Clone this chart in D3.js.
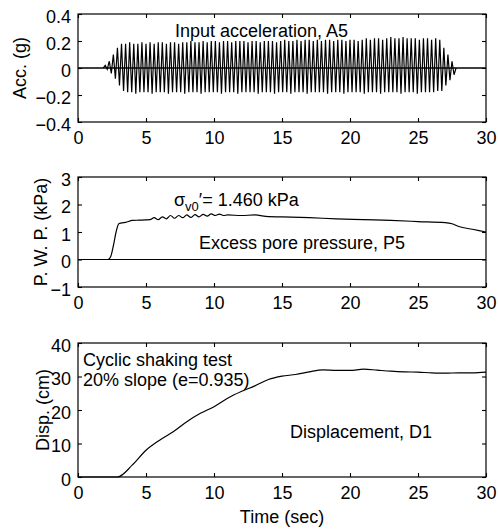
<!DOCTYPE html>
<html lang="en">
<head>
  <meta charset="UTF-8" />
  <title>Cyclic shaking test</title>
  <script src="https://d3js.org/d3.v7.min.js"></script>
  <style>
    body{margin:0;background:#fff}
    svg{display:block}
    text{font-family:"Liberation Sans",Arial,sans-serif;font-size:18px;fill:#000}
    .tick text{font-size:18px}
    .frame{fill:none;stroke:#000;stroke-width:1.2}
    .curve{fill:none;stroke:#000;stroke-width:1.2}
  </style>
</head>
<body>
  <div id="chart"></div>
  <script>
    // input acceleration A5 : one peak pair per cycle, cycles start at accT0 every accPeriod seconds
    const accT0 = 2.0, accPeriod = 0.3;
    const accPos = [
      0.02,0.05,0.10,0.15,0.18,
      0.18,0.19,0.18,0.18,0.19,0.18,0.19,0.18,0.19,0.19,0.18,0.19,0.19,0.18,0.19,
      0.19,0.20,0.19,0.19,0.20,0.19,0.20,0.20,0.19,0.20,0.20,0.19,0.20,0.20,0.20,0.19,0.20,0.20,0.19,0.20,0.20,0.20,0.19,
      0.20,0.21,0.20,0.20,0.21,0.20,0.21,0.21,0.20,0.21,0.20,0.21,0.21,0.20,0.21,0.21,0.20,0.21,0.21,0.20,
      0.21,0.22,0.21,0.22,0.22,0.21,0.22,0.23,0.22,0.22,0.23,0.22,0.22,0.22,0.21,0.22,0.22,0.21,0.22,
      0.21,0.15,0.10,0.05
    ];
    const accNeg = [
      -0.01,-0.04,-0.08,-0.13,-0.17,
      -0.18,-0.18,-0.19,-0.18,-0.18,-0.18,-0.19,-0.18,-0.18,-0.18,-0.19,-0.18,-0.18,-0.18,-0.19,
      -0.18,-0.18,-0.18,-0.19,-0.18,-0.18,-0.18,-0.18,-0.19,-0.18,-0.18,-0.18,-0.19,-0.18,-0.18,-0.18,-0.18,-0.19,-0.18,-0.18,-0.18,-0.19,-0.18,
      -0.18,-0.18,-0.19,-0.18,-0.18,-0.18,-0.19,-0.18,-0.18,-0.18,-0.18,-0.19,-0.18,-0.18,-0.18,-0.19,-0.18,-0.18,-0.18,-0.18,
      -0.19,-0.18,-0.18,-0.18,-0.19,-0.18,-0.18,-0.18,-0.18,-0.19,-0.18,-0.18,-0.18,-0.19,-0.18,-0.18,-0.18,-0.18,-0.17,
      -0.17,-0.13,-0.09,-0.05
    ];

    // excess pore pressure P5 (kPa)
    const pwpT = [0,2.2,2.4,2.6,2.8,3.0,3.2,3.5,4.0,4.5,5.0,5.3,5.6,5.9,6.2,6.5,6.8,7.1,7.4,7.7,8.0,8.3,8.6,8.9,9.2,9.5,9.8,10.1,10.4,10.7,11.0,12,13,14,15,17,19,21,23,25,27,27.5,28,29,30];
    const pwpV = [0,0,0.1,0.5,1.0,1.3,1.33,1.35,1.42,1.43,1.44,1.45,1.52,1.45,1.55,1.48,1.6,1.5,1.6,1.52,1.62,1.53,1.63,1.55,1.64,1.58,1.66,1.6,1.65,1.6,1.62,1.6,1.62,1.56,1.55,1.52,1.48,1.45,1.42,1.38,1.34,1.3,1.2,1.1,1.0];

    // displacement D1 (cm)
    const dispT = [0,2.9,4,5,6,7,8,9,10,11,12,13,14,15,16,17,18,19,20,21,22,23,24,25,26,27,28,29,30];
    const dispV = [0,0,3.6,8.0,11,13.5,16.5,19,21,23.5,25.5,27.2,29.1,30.1,30.6,31.4,32,31.8,31.8,32.2,31.9,31.6,31.4,31.3,31.1,31,31.1,31.1,31.3];

    const timeTicks = [0,5,10,15,20,25,30];
    const accTicks = [-0.4,-0.2,0,0.2,0.4];
    const pwpTicks = [-1,0,1,2,3];
    const dispTicks = [0,10,20,30,40];

    const W = 498, H = 530;
    const svg = d3.select("#chart").append("svg").attr("width", W).attr("height", H);
    const x = d3.scaleLinear().domain([0, 30]).range([78, 486]);

    function panel(top, bottom, ydom, yticks, yfmt, ylabel, labelX) {
      const y = d3.scaleLinear().domain(ydom).range([bottom, top]);
      const g = svg.append("g");
      g.append("g").attr("transform", `translate(0,${bottom})`)
        .call(d3.axisBottom(x).tickValues(timeTicks).tickSizeInner(-4).tickSizeOuter(0).tickPadding(9))
        .call(a => a.select(".domain").remove());
      g.append("g").attr("transform", `translate(0,${top})`)
        .call(d3.axisTop(x).tickValues(timeTicks).tickSizeInner(-4).tickSizeOuter(0).tickFormat(""))
        .call(a => a.select(".domain").remove());
      g.append("g").attr("transform", `translate(${x(0)},0)`)
        .call(d3.axisLeft(y).tickValues(yticks).tickSizeInner(-4).tickSizeOuter(0).tickPadding(7).tickFormat(yfmt))
        .call(a => a.select(".domain").remove())
        .call(a => a.selectAll(".tick text").attr("dy", "0.45em"));
      g.append("g").attr("transform", `translate(${x(30)},0)`)
        .call(d3.axisRight(y).tickValues(yticks).tickSizeInner(-4).tickSizeOuter(0).tickFormat(""))
        .call(a => a.select(".domain").remove());
      g.selectAll(".tick line").attr("stroke", "#000").attr("stroke-width", 1.1);
      g.selectAll(".tick text").attr("font-family", null).attr("font-size", null);
      g.append("rect").attr("class", "frame")
        .attr("x", x(0)).attr("y", top).attr("width", x(30) - x(0)).attr("height", bottom - top);
      g.append("text").attr("text-anchor", "middle")
        .attr("transform", `translate(${labelX},${(top + bottom) / 2}) rotate(-90)`).text(ylabel);
      return {g, y};
    }

    const minus = d => d < 0 ? "\u2212" + Math.abs(d) : String(d);

    // panel 1: acceleration
    const p1 = panel(14, 122, [-0.4, 0.4], accTicks, minus, "Acc. (g)", 26);
    const accPts = [[accT0 - 0.15, 0]];
    accPos.forEach((v, i) => {
      const t = accT0 + i * accPeriod;
      accPts.push([t, v]);
      accPts.push([t + accPeriod / 2, accNeg[i]]);
    });
    accPts.push([accT0 + accPos.length * accPeriod, 0]);
    p1.g.append("line").attr("x1", x(0)).attr("x2", x(30)).attr("y1", p1.y(0)).attr("y2", p1.y(0))
      .attr("stroke", "#000").attr("stroke-width", 1.3);
    p1.g.append("path").datum(accPts).attr("class", "curve").attr("stroke-width", 0.8)
      .attr("d", d3.line().x(d => x(d[0])).y(d => p1.y(d[1])));
    p1.g.append("text").attr("x", 175).attr("y", 37).text("Input acceleration, A5");

    // panel 2: pore pressure
    const p2 = panel(177, 287, [-1, 3], pwpTicks, minus, "P. W. P. (kPa)", 47);
    p2.g.append("line").attr("x1", x(0)).attr("x2", x(30)).attr("y1", p2.y(0)).attr("y2", p2.y(0))
      .attr("stroke", "#000").attr("stroke-width", 1.2);
    p2.g.append("path").datum(pwpT.map((t, i) => [t, pwpV[i]])).attr("class", "curve")
      .attr("d", d3.line().x(d => x(d[0])).y(d => p2.y(d[1])).curve(d3.curveMonotoneX));
    const sig = p2.g.append("text").attr("x", 174).attr("y", 206);
    sig.append("tspan").text("\u03c3");
    sig.append("tspan").attr("font-size", 13).attr("dy", 5).text("v0");
    sig.append("tspan").attr("dy", -5).text("\u2032= 1.460 kPa");
    p2.g.append("text").attr("x", 199).attr("y", 249).text("Excess pore pressure, P5");

    // panel 3: displacement
    const p3 = panel(343, 477, [0, 40], dispTicks, d => String(d), "Disp. (cm)", 49);
    p3.g.append("path").datum(dispT.map((t, i) => [t, dispV[i]])).attr("class", "curve")
      .attr("d", d3.line().x(d => x(d[0])).y(d => p3.y(d[1])).curve(d3.curveMonotoneX));
    p3.g.append("text").attr("x", 83).attr("y", 366).text("Cyclic shaking test");
    p3.g.append("text").attr("x", 83).attr("y", 386).text("20% slope (e=0.935)");
    p3.g.append("text").attr("x", 290).attr("y", 438).text("Displacement, D1");

    svg.append("text").attr("x", 282).attr("y", 523).attr("text-anchor", "middle").text("Time (sec)");
  </script>
</body>
</html>
